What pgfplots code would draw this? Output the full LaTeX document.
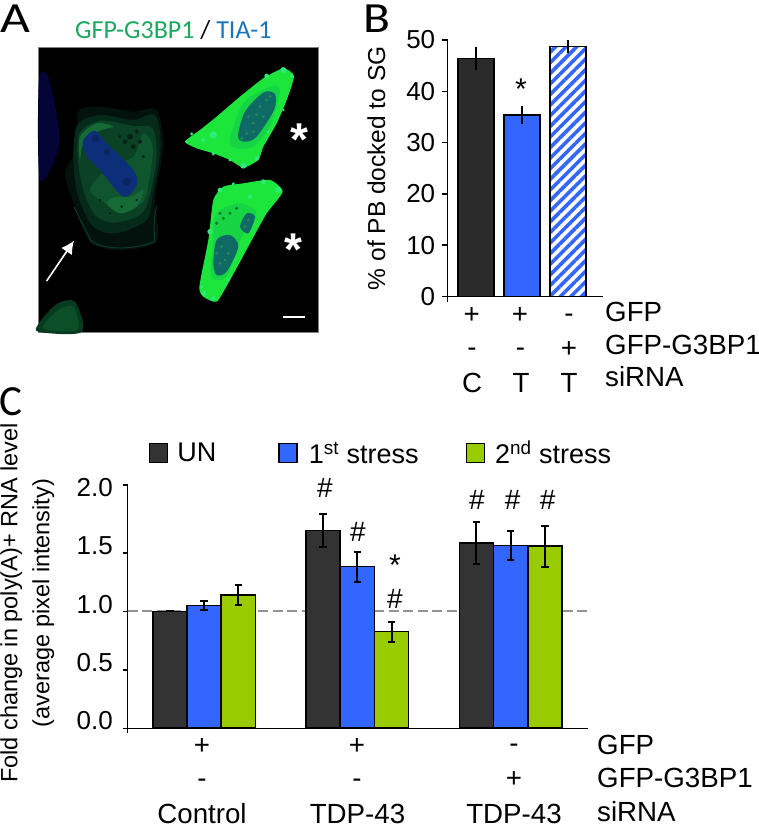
\documentclass[border=0pt]{standalone}
\usepackage{pgfplots}
\pgfplotsset{compat=1.18}
\usepackage{fontspec}
\setmainfont{Liberation Sans}
\newfontfamily\calibri{Carlito}
\usetikzlibrary{patterns.meta,arrows.meta}
\definecolor{bdark}{HTML}{333333}
\definecolor{bblue}{HTML}{3366FF}
\definecolor{bgreen}{HTML}{99CC00}
\definecolor{cellg}{HTML}{1CE63C}
\definecolor{cellh}{HTML}{2EEA78}
\definecolor{celld}{HTML}{16D444}
\definecolor{nucd}{HTML}{0F6A66}
\tikzset{HTML/.code={\definecolor{tmpc}{HTML}{#1}\tikzset{color=tmpc}}}
\newcommand{\fs}[1]{\fontsize{#1pt}{#1pt}\selectfont}
\begin{document}
\begin{tikzpicture}
\useasboundingbox (0pt,0pt) rectangle (759pt,825pt);
% Panel A micrograph sketch (coordinates: 3x pixels from top left)
\begin{scope}[shift={(0pt,825pt)},x=0.33333pt,y=-0.33333pt]
\fill[black] (115,143) rectangle (955,998);
\draw[gray,line width=0.8pt] (115,143) rectangle (955,998);
\fill[HTML=040436] plot[smooth cycle] coordinates {(117,240) (148,240) (178,430) (120,540)};
% dim cell, soft layers
\fill[HTML=03120D] plot[smooth cycle] coordinates {(235,335) (300,320) (400,335) (470,330) (490,440) (465,600) (470,725) (350,750) (270,725) (225,620) (195,520) (235,440)};
\fill[HTML=062A1A] plot[smooth cycle] coordinates {(232,375) (300,345) (400,360) (465,345) (482,440) (458,590) (440,660) (350,700) (280,680) (235,590) (220,480)};
\fill[HTML=0B4226] plot[smooth cycle] coordinates {(238,400) (300,362) (400,378) (458,385) (470,470) (448,590) (420,645) (340,668) (285,645) (250,570) (234,480)};
\fill[HTML=0F552E] plot[smooth cycle] coordinates {(270,570) (340,620) (425,610) (448,540) (458,440) (430,400) (400,470) (330,500)};
\fill[HTML=166A36] plot[smooth cycle] coordinates {(320,610) (360,640) (410,620) (430,570) (395,590) (350,590)};
\fill[HTML=166A36] plot[smooth cycle] coordinates {(240,410) (290,370) (340,380) (300,392) (250,430) (240,480)};
\fill[HTML=0D2E78] plot[smooth cycle] coordinates {(250,420) (285,392) (320,430) (400,510) (410,555) (370,590) (300,510) (258,465)};
\fill[HTML=0A2560] (285,415) circle[radius=11];
\fill[HTML=0A2560] (320,455) circle[radius=9];
\fill[HTML=0A2560] (380,545) circle[radius=12];
\foreach \x/\y/\r in {390/410/9,410/395/6,375/425/7,420/425/6,400/440/7,360/410/5,430/470/5,365/620/4,330/640/4,300/600/4,410/600/4}
  \fill[HTML=062218] (\x,\y) circle[radius=\r];
\draw[HTML=0C3A2C,line width=1pt] (222,620) .. controls (250,680) and (262,700) .. (275,725) .. controls (330,755) and (410,745) .. (465,725) .. controls (460,680) and (462,650) .. (470,620);
\fill[HTML=073A1E] plot[smooth cycle] coordinates {(117,970) (170,912) (225,905) (245,996) (117,996)};
\fill[HTML=0B4E28] plot[smooth cycle] coordinates {(130,985) (175,930) (220,920) (232,990)};
% upper bright cell
\fill[cellg] plot[smooth cycle,tension=.35] coordinates {(555,425) (600,390) (650,350) (720,290) (790,235) (850,205) (882,228) (860,300) (830,370) (790,440) (775,480) (730,503) (690,480) (640,460) (590,445)};
\fill[celld] plot[smooth cycle] coordinates {(690,420) (730,310) (810,260) (840,270) (810,380) (760,440) (710,445)};
\foreach \x/\y/\r in {560/425/5,575/402/5,640/462/5,690/480/5,730/497/9,770/475/7,805/395/5,850/330/4,800/228/7,850/210/9,875/228/5,640/405/11,610/420/6}
  \fill[cellh] (\x,\y) circle[radius=\r];
\fill[nucd] plot[smooth cycle] coordinates {(714,410) (735,335) (790,278) (825,282) (822,330) (770,410) (735,425)};
\foreach \x/\y in {740/400,760/370,745/350,780/320,800/300,770/345,790/350,725/415,760/395,810/290}
  \fill[HTML=1F8A58] (\x,\y) circle[radius=5];
% lower bright cell
\fill[cellg] plot[smooth cycle,tension=.35] coordinates {(598,860) (625,720) (640,600) (670,560) (730,550) (810,540) (848,575) (800,640) (750,730) (690,840) (650,905) (610,890)};
\fill[celld] plot[smooth cycle] coordinates {(650,640) (720,610) (770,640) (720,720) (680,830) (635,830) (640,720)};
\foreach \x/\y/\r in {660/570/7,700/552/5,790/545/7,835/570/9,630/695/8,685/840/5,612/880/7,640/895/6,605/860/5,750/590/7}
  \fill[cellh] (\x,\y) circle[radius=\r];
\fill[nucd] plot[smooth cycle] coordinates {(640,790) (650,720) (690,705) (715,740) (680,815) (650,825)};
\fill[nucd] plot[smooth cycle] coordinates {(720,680) (740,640) (765,650) (745,700)};
\foreach \x/\y in {665/740,685/760,660/790,675/780,650/760,745/660,735/680}
  \fill[HTML=1F8A58] (\x,\y) circle[radius=5];
\foreach \x/\y in {670/655,690/640,710/625,660/640,650/670}
  \fill[HTML=0A7A30] (\x,\y) circle[radius=5];
% arrow and scale bar
\draw[white,line width=1.6pt,-{Latex[length=13pt,width=13pt]}] (140,843) -- (222,722);
\draw[white,line width=2.6pt] (850,951) -- (916,951);
\end{scope}
\node[white,font=\bfseries\fs{46}] at (299pt,685pt) {*};
\node[white,font=\bfseries\fs{46}] at (293pt,575pt) {*};
\node[anchor=west,font=\calibri\fs{43},inner sep=0pt,xscale=1.2] at (0pt,806pt) {A};
\node[anchor=west,font=\calibri\fs{43},inner sep=0pt,xscale=1.15] at (363pt,806pt) {B};
\node[anchor=west,font=\calibri\fs{43},inner sep=0pt] at (-1pt,423pt) {C};
\node[anchor=west,font=\calibri\fs{26},inner sep=0pt] at (75pt,795pt) {\textcolor[HTML]{1CA85F}{GFP-G3BP1} / \textcolor[HTML]{1B75BB}{TIA-1}};
% Panel B
\begin{axis}[
  at={(447.7pt,528.5pt)},anchor=south west,scale only axis,width=155.3pt,height=256.5pt,
  xmin=-0.615,xmax=2.76,ymin=0,ymax=50,
  axis x line=bottom,axis y line=left,axis line style={line width=1.5pt,-},
  xtick={-0.615},xticklabels={},ytick={0,10,20,30,40,50},
  tick align=outside,major tick length=6pt,tick style={line width=1.5pt,black},
  tick label style={font=\fs{26}},yticklabel style={xshift=-3pt,/pgf/number format/assume math mode=true},
  every axis y label/.style={at={(axis description cs:-0.46,0.5)},rotate=90,anchor=center,font=\fs{24.5}},
  ylabel={\% of PB docked to SG},
  ybar,bar width=36pt,
  error bars/y dir=both,error bars/y explicit,error bars/error mark=none,
  error bars/error bar style={line width=1.5pt,black},
]
\addplot[bar shift=0pt,draw=black,line width=1.6pt,fill=bdark!85!black] coordinates {(0,46.4) +- (0,2.25)};
\addplot[bar shift=0pt,draw=black,line width=1.6pt,fill=bblue] coordinates {(1,35.4) +- (0,1.8)};
\addplot[bar shift=0pt,draw=black,line width=1.6pt,pattern={Lines[angle=45,distance=7.5pt,line width=3.6pt]},pattern color=bblue] coordinates {(2,48.7) +- (0,1.25)};
\end{axis}
\foreach \x/\y/\t in {471.7/509/+,520/509/+,569/507/-,472/473/-,520.5/473/-,569/475/+,472/442/C,521/442/T,569/442/T}
  \node[font=\fs{27.7},inner sep=0pt] at (\x pt,\y pt) {\t};
\node[font=\fs{30},inner sep=0pt] at (521pt,736pt) {*};
\node[anchor=west,font=\fs{27.7},inner sep=0pt] at (605pt,513pt) {GFP};
\node[anchor=west,font=\fs{27.7},inner sep=0pt] at (605pt,480pt) {GFP-G3BP1};
\node[anchor=west,font=\fs{27.7},inner sep=0pt] at (605pt,448pt) {siRNA};
% Panel C reference line
\begin{axis}[
  at={(127.7pt,96.7pt)},anchor=south west,scale only axis,width=460pt,height=243.3pt,
  xmin=-0.498,xmax=2.503,ymin=0,ymax=2.08,hide axis]
\addplot[color=gray!85,line width=2pt,dash pattern=on 10pt off 4.5pt,forget plot] coordinates {(-0.498,1) (2.503,1)};
\end{axis}
% Panel C
\begin{axis}[
  at={(127.7pt,96.7pt)},anchor=south west,scale only axis,width=460pt,height=243.3pt,
  xmin=-0.498,xmax=2.503,ymin=0,ymax=2.08,
  axis x line=bottom,axis y line=left,axis line style={line width=1.5pt,-},
  xtick={-0.498},xticklabels={},
  ytick={0,0.5,1,1.5,2.08},yticklabels={},
  tick align=outside,major tick length=5pt,tick style={line width=1.5pt,black},
  every axis y label/.style={at={(axis description cs:-0.218,0.515)},rotate=90,anchor=center,align=center,font=\fontsize{23.5pt}{32pt}\selectfont},
  ylabel={Fold change in poly(A)+ RNA level\\(average pixel intensity)},
  ybar=0pt,bar width=34.2pt,
  error bars/y dir=both,error bars/y explicit,
  error bars/error bar style={line width=2pt,black},
  error bars/error mark options={rotate=90,mark size=3.7pt,line width=2pt,black},
  legend columns=-1,
  legend style={draw=none,fill=none,at={(21pt,275pt)},anchor=west,inner sep=0pt,font=\fs{27},
    /tikz/every even column/.append style={column sep=5pt}},
  legend image code/.code={\draw[#1,line width=1.5pt] (0pt,-9pt) rectangle (18pt,10pt);},
]
\addplot[draw=black,line width=1.6pt,fill=bdark] coordinates {(0,1.0) +- (0,0) (1,1.692) +- (0,0.144) (2,1.584) +- (0,0.181)};
\addplot[draw=black,line width=1.6pt,fill=bblue] coordinates {(0,1.05) +- (0,0.04) (1,1.382) +- (0,0.128) (2,1.564) +- (0,0.124)};
\addplot[draw=black,line width=1.6pt,fill=bgreen] coordinates {(0,1.14) +- (0,0.087) (1,0.826) +- (0,0.085) (2,1.556) +- (0,0.175)};
\legend{\hspace*{7pt}UN\rule{55pt}{0pt},\hspace*{9pt}1\textsuperscript{st} stress\rule{40pt}{0pt},\hspace*{8pt}2\textsuperscript{nd} stress}
\end{axis}
% Panel C y tick labels (the reference sets them apart from the ticks)
\foreach \y/\t in {337/2.0,279.3/1.5,220/1.0,162.3/0.5,104/0.0}
  \node[anchor=east,font=\fs{26},inner sep=0pt] at (113pt,\y pt) {\t};
\foreach \x/\y/\t in {325/337/\#,358/293/\#,395/226/\#,477/325/\#,512.7/325/\#,547.7/325/\#}
  \node[font=\fs{28},inner sep=0pt] at (\x pt,\y pt) {\t};
\node[font=\fs{30},inner sep=0pt] at (395pt,260pt) {*};
\foreach \x/\y/\t in {202/78/+,357/78/+,514/77/-,202/42/-,357/42/-,514/45/+}
  \node[font=\fs{27.7},inner sep=0pt] at (\x pt,\y pt) {\t};
\foreach \x/\t in {202/Control,357.5/TDP-43,514/TDP-43}
  \node[font=\fs{27.7},inner sep=0pt] at (\x pt,11.5pt) {\t};
\node[anchor=west,font=\fs{27.7},inner sep=0pt] at (597pt,80pt) {GFP};
\node[anchor=west,font=\fs{27.7},inner sep=0pt] at (597pt,47pt) {GFP-G3BP1};
\node[anchor=west,font=\fs{27.7},inner sep=0pt] at (597pt,13pt) {siRNA};
\end{tikzpicture}
\end{document}
